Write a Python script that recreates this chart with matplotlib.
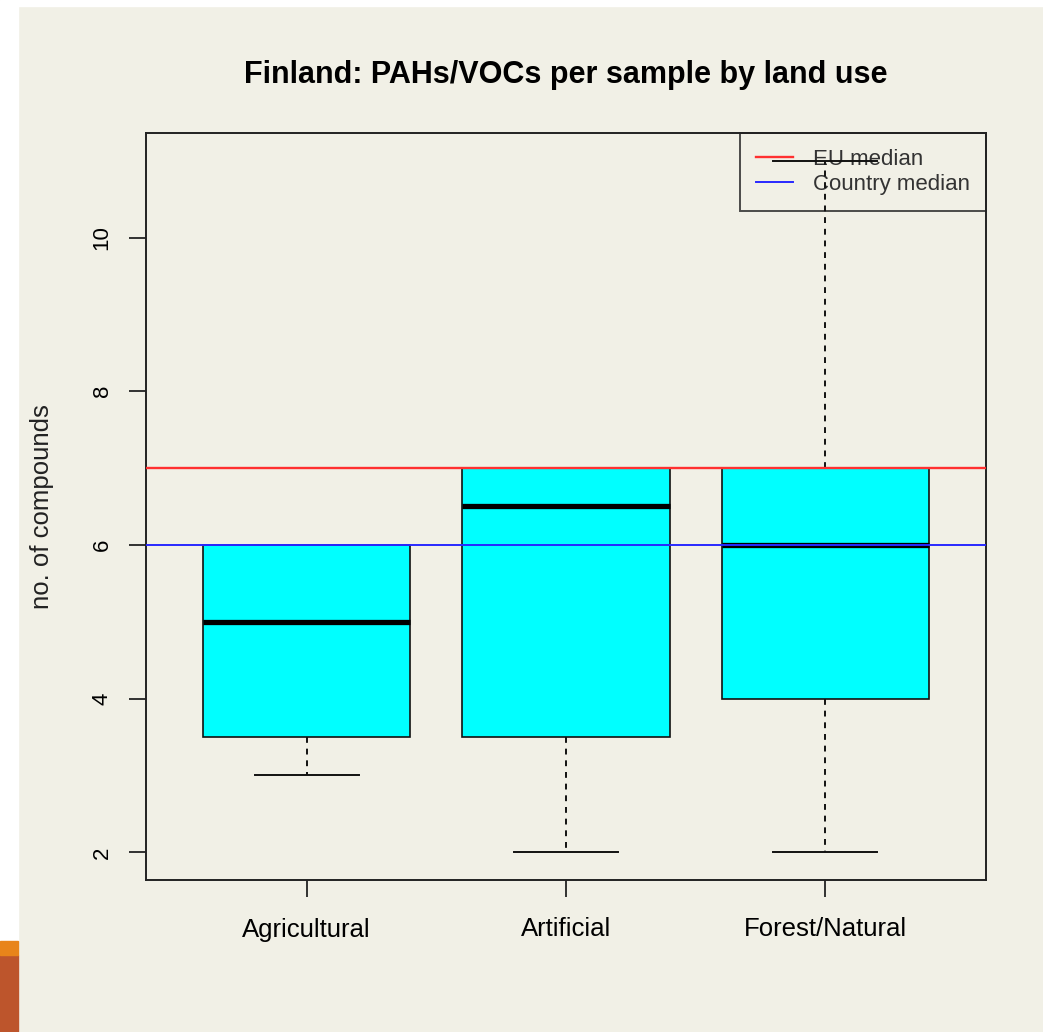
import matplotlib
matplotlib.use("Agg")
import matplotlib.pyplot as plt
from matplotlib.patches import Rectangle
from matplotlib.lines import Line2D

plt.rcParams['font.family'] = ['Liberation Sans', 'DejaVu Sans']

# box statistics
land_use = ['Agricultural', 'Artificial', 'Forest/Natural']
whisk_lo = [3, 2, 2]
q1 = [3.5, 3.5, 4]
med = [5, 6.5, 6]
q3 = [6, 7, 7]
whisk_hi = [6, 7, 11]
eu_median = 7
country_median = 6
yticks = [2, 4, 6, 8, 10]

bg = '#f1f0e6'
W, H = 1043, 1032
fig = plt.figure(figsize=(W / 100, H / 100), dpi=100, facecolor=bg)

# slide decoration: white strips, orange/brown bar bottom-left
fig.patches.append(Rectangle((0, 0), 18 / W, 1, transform=fig.transFigure, color='white', zorder=0))
fig.patches.append(Rectangle((0, 1 - 6 / H), 1, 6 / H, transform=fig.transFigure, color='white', zorder=0))
fig.patches.append(Rectangle((0, 0), 18 / W, 77 / H, transform=fig.transFigure, color='#bd552c', zorder=1))
fig.patches.append(Rectangle((0, 77 / H), 18 / W, 14 / H, transform=fig.transFigure, color='#e8841a', zorder=1))

ax = fig.add_axes([146 / W, 152 / H, 840 / W, 747 / H])
ax.set_facecolor(bg)

stats = []
for i, name in enumerate(land_use):
    stats.append(dict(label=name, whislo=whisk_lo[i], q1=q1[i], med=med[i],
                      q3=q3[i], whishi=whisk_hi[i], fliers=[]))

ax.bxp(stats, positions=[1, 2, 3], widths=0.8, patch_artist=True,
       showfliers=False,
       boxprops=dict(facecolor='#00ffff', edgecolor='#111111', linewidth=1.2),
       medianprops=dict(color='black', linewidth=3.8, solid_capstyle='butt'),
       whiskerprops=dict(color='#111111', linewidth=1.4, linestyle=(0, (3, 3))),
       capprops=dict(color='#111111', linewidth=1.4),
       capwidths=0.4, zorder=2)

ax.axhline(eu_median, color='#ff3030', linewidth=1.7, zorder=3)
ax.axhline(country_median, color='#2828ff', linewidth=1.4, zorder=3)

ymin, ymax = 2, 11
pad = (ymax - ymin) * 0.04
ax.set_ylim(ymin - pad, ymax + pad)
ax.set_xlim(0.5 - 0.12, 3.5 + 0.12)

ax.set_yticks(yticks)
ax.set_yticklabels([str(v) for v in yticks], rotation=90, va='center', fontsize=16)
ax.set_xticks([1, 2, 3])
ax.set_xticklabels(land_use, fontsize=18.5)
ax.tick_params(axis='both', length=12, width=1.3, color='#222222')
ax.tick_params(axis='y', pad=12)
ax.tick_params(axis='x', pad=15)
for s in ax.spines.values():
    s.set_linewidth(1.4)
    s.set_color('#222222')

ax.set_ylabel('no. of compounds', fontsize=18.5, labelpad=27, color='#222222')
ax.set_title('Finland: PAHs/VOCs per sample by land use', fontsize=22,
             fontweight='bold', pad=36)

handles = [Line2D([], [], color='#ff3030', linewidth=1.7),
           Line2D([], [], color='#2828ff', linewidth=1.4)]
leg = ax.legend(handles, ['EU median', 'Country median'], loc='upper right',
                fontsize=16, frameon=True, fancybox=False, borderaxespad=0,
                handlelength=1.7, handletextpad=0.9, labelspacing=0.2,
                borderpad=0.7)
leg.get_frame().set_facecolor('none')
leg.get_frame().set_edgecolor('#222222')
leg.get_frame().set_linewidth(1.4)
for t in leg.get_texts():
    t.set_color('#333333')
leg.set_zorder(1)

fig.savefig('out.png', dpi=100, facecolor=bg)
